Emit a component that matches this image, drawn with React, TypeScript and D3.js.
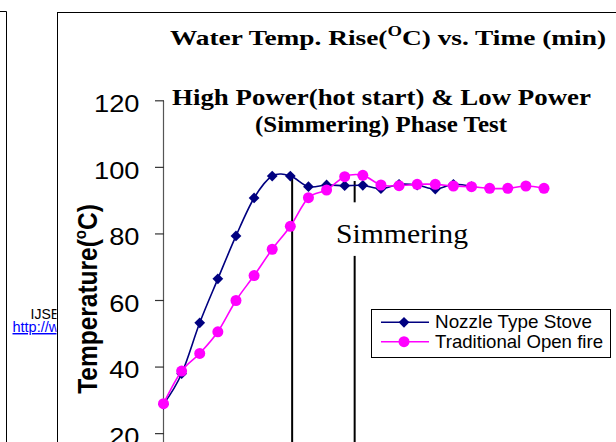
import React from "react";
import * as d3 from "d3";

// ---- data ----
const timeMin = [0, 1, 2, 3, 4, 5, 6, 7, 8, 9, 10, 11, 12, 13, 14, 15, 16, 17, 18, 19, 20, 21];
const nozzleStove = [28.8, 38.0, 53.3, 66.5, 79.4, 90.8, 97.4, 97.4, 94.2, 94.7, 94.5, 94.6, 93.6, 94.9, 94.7, 93.5, 94.9, 94.2];
const openFire = [29.0, 38.8, 44.1, 50.6, 60.0, 67.5, 75.4, 82.3, 90.9, 93.2, 97.2, 97.6, 94.7, 94.5, 94.9, 94.9, 94.4, 94.2, 93.7, 93.7, 94.4, 93.7];
const yTicks = [0, 20, 40, 60, 80, 100, 120];
const seriesNames = ["Nozzle Type Stove", "Traditional Open fire"];
const seriesColors = ["#000080", "#FF00FF"];
// phase markers (time, top temp)
const hotStartEnd = { t: 7.1, top: 97.4 };
const simmerMark = { t: 10.55, top: 95.9, gapTop: 89.5, gapBottom: 73.4 };

const W = 616;
const H = 442;

export default function App() {
  const x = d3.scaleLinear().domain([0, 21]).range([163.5, 544]);
  const y = d3.scaleLinear().domain([0, 120]).range([500.2, 100.8]);

  const line = d3
    .line<number>()
    .x((_, i) => x(timeMin[i]))
    .y((d) => y(d))
    .curve(d3.curveCardinal.tension(0));

  const diamond = d3.symbol().type(d3.symbolSquare).size(58)() as string;
  const axisX = 163.5;

  return (
    <div style={{ position: "absolute", left: 0, top: 0 }}>
      <svg width={W} height={H} style={{ display: "block", background: "#fff" }}>
        <defs>
          <clipPath id="leftPage">
            <rect x={0} y={0} width={56.5} height={H} />
          </clipPath>
        </defs>
        {/* left page remnants */}
        <path d={`M0,11.5H6.5V${H}`} fill="none" stroke="#000" strokeWidth={1} />
        <g clipPath="url(#leftPage)" fontFamily="Arial, 'Liberation Sans', sans-serif">
          <text x={30.5} y={319} fontSize={14} fill="#000">IJSER</text>
          <text x={12.5} y={332} fontSize={14.5} fill="#0000FF" textDecoration="underline">http://www.ijser.org</text>
        </g>

        {/* chart frame */}
        <rect x={57.5} y={12.5} width={620} height={500} fill="#fff" stroke="#000" strokeWidth={1} />

        {/* titles */}
        <g fontFamily="'Liberation Serif', 'Times New Roman', serif" fontWeight="bold" fill="#000" textAnchor="start">
          <text x={170} y={45} fontSize={22} textLength={436} lengthAdjust="spacingAndGlyphs">
            Water Temp. Rise(<tspan fontSize={15} dy={-9}>O</tspan>
            <tspan dy={9}>C) vs. Time (min)</tspan>
          </text>
          <text x={172} y={105} fontSize={23} textLength={419} lengthAdjust="spacingAndGlyphs">
            High Power(hot start) &amp; Low Power
          </text>
          <text x={255} y={132} fontSize={23} textLength={252} lengthAdjust="spacingAndGlyphs">
            (Simmering) Phase Test
          </text>
        </g>

        {/* y axis */}
        <line x1={axisX} x2={axisX} y1={y(120)} y2={y(0)} stroke="#555" strokeWidth={1.2} />
        {yTicks.map((t) => (
          <g key={t}>
            <line x1={155} x2={axisX + 0.5} y1={y(t)} y2={y(t)} stroke="#333" strokeWidth={1.2} />
            <text
              transform={`translate(139.5,${y(t) + 11.3}) scale(1.17,1)`}
              textAnchor="end"
              fontFamily="Arial, 'Liberation Sans', sans-serif"
              fontSize={23.3}
              fill="#000"
            >
              {t}
            </text>
          </g>
        ))}
        <text
          transform="translate(97,299) rotate(-90) scale(1,1.12)"
          textAnchor="middle"
          fontFamily="Arial, 'Liberation Sans', sans-serif"
          fontWeight="bold"
          fontSize={24.5}
          fill="#000"
        >
          Temperature(<tspan fontSize={15} dy={-10}>o</tspan>
          <tspan dy={10}>C)</tspan>
        </text>

        {/* phase lines */}
        <line x1={x(hotStartEnd.t)} x2={x(hotStartEnd.t)} y1={y(hotStartEnd.top)} y2={y(0)} stroke="#000" strokeWidth={2} />
        <line x1={x(simmerMark.t)} x2={x(simmerMark.t)} y1={y(simmerMark.top)} y2={y(simmerMark.gapTop)} stroke="#000" strokeWidth={2} />
        <line x1={x(simmerMark.t)} x2={x(simmerMark.t)} y1={y(simmerMark.gapBottom)} y2={y(0)} stroke="#000" strokeWidth={2} />
        <text
          x={336}
          y={242.5}
          fontFamily="'Liberation Serif', 'Times New Roman', serif"
          fontSize={27}
          textLength={132}
          lengthAdjust="spacingAndGlyphs"
          fill="#000"
        >
          Simmering
        </text>

        {/* series: nozzle stove */}
        <path d={line(nozzleStove) as string} fill="none" stroke={seriesColors[0]} strokeWidth={1.6} />
        {nozzleStove.map((v, i) => (
          <path key={"n" + i} d={diamond} transform={`translate(${x(timeMin[i])},${y(v)}) rotate(45)`} fill={seriesColors[0]} />
        ))}
        {/* series: open fire */}
        <path d={line(openFire) as string} fill="none" stroke={seriesColors[1]} strokeWidth={1.6} />
        {openFire.map((v, i) => (
          <circle key={"o" + i} cx={x(timeMin[i])} cy={y(v)} r={5.5} fill={seriesColors[1]} />
        ))}

        {/* legend */}
        <rect x={371.5} y={309.5} width={239} height={48} fill="#fff" stroke="#000" strokeWidth={1} />
        {seriesNames.map((name, i) => {
          const ly = 322.3 + i * 19.4;
          return (
            <g key={name}>
              <line x1={381} x2={429} y1={ly} y2={ly} stroke={seriesColors[i]} strokeWidth={1.6} />
              {i === 0 ? (
                <path d={diamond} transform={`translate(404,${ly}) rotate(45)`} fill={seriesColors[0]} />
              ) : (
                <circle cx={404} cy={ly} r={5.5} fill={seriesColors[1]} />
              )}
              <text
                x={435}
                y={ly + 6}
                fontFamily="Arial, 'Liberation Sans', sans-serif"
                fontSize={17.7}
                textLength={i === 0 ? 157 : 168}
                lengthAdjust="spacingAndGlyphs"
                fill="#000"
              >
                {name}
              </text>
            </g>
          );
        })}
      </svg>
    </div>
  );
}
